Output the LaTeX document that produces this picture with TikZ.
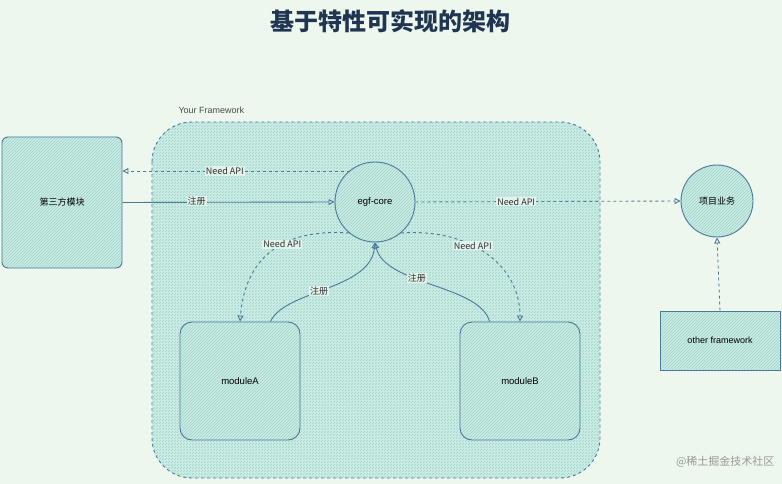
\documentclass[tikz,border=0pt]{standalone}
\usepackage{fontspec}
\setmainfont{Liberation Sans}
\newfontfamily\cjk{Noto Sans CJK SC}
\usetikzlibrary{patterns,arrows.meta}
\definecolor{bg}{HTML}{EEF7EE}
\definecolor{ln}{HTML}{4A7A98}
\definecolor{fl}{HTML}{CDEDE6}
\definecolor{hatch}{HTML}{9AD3C9}
\definecolor{ttl}{HTML}{1F3552}
\tikzset{
  sk/.style={draw=ln,line width=0.9pt,preaction={fill=fl},pattern=north east lines,pattern color=hatch},
  lbl/.style={font=\cjk\fontsize{9}{10}\selectfont,text=black!80,fill=bg!60!fl,inner sep=1pt},
  solidar/.style={draw=ln,line width=0.9pt,-{Triangle[open,length=6pt,width=6pt]}},
  dashar/.style={draw=ln,line width=0.9pt,dashed,-{Triangle[open,length=6pt,width=6pt]}},
}
\begin{document}
\begin{tikzpicture}[x=1pt,y=-1pt]
\useasboundingbox[fill=bg] (0,0) rectangle (782,484);
\node[font=\cjk\bfseries\fontsize{24}{27}\selectfont,text=ttl] (title) at (390,21) {基于特性可实现的架构};
\node[anchor=west,font=\fontsize{9}{10}\selectfont,text=black!70] (fwl) at (175,110) {Your Framework};
\path[sk,dashed,rounded corners=40] (152,122) rectangle (600,478);
\node[sk,rounded corners=6,minimum width=120,minimum height=131,font=\cjk\fontsize{9}{10}\selectfont] (third) at (62,202.5) {第三方模块};
\node[sk,circle,minimum size=80,font=\fontsize{9.5}{11}\selectfont] (core) at (375,202) {egf-core};
\node[sk,circle,minimum size=72,font=\cjk\fontsize{9}{10}\selectfont] (biz) at (717,201) {项目业务};
\node[sk,minimum width=120,minimum height=59,font=\fontsize{9}{10}\selectfont] (other) at (720,340.5) {other framework};
\node[sk,rounded corners=12,minimum width=120,minimum height=118,font=\fontsize{9.5}{11}\selectfont] (ma) at (240,381) {moduleA};
\node[sk,rounded corners=12,minimum width=120,minimum height=118,font=\fontsize{9.5}{11}\selectfont] (mb) at (520,381) {moduleB};
\coordinate (cs) at (350,171);
\draw[solidar] (third.east) -- node[lbl,pos=0.35,above=-4pt] {注册} (core.west);
\draw[dashar] (cs) -- node[lbl,pos=0.55] {Need API} (third.east |- cs);
\draw[dashar] (core.east) -- node[lbl,pos=0.38] {Need API} (biz.west);
\draw[dashar] (other.north) -- (biz.south);
\draw[solidar] (ma.north east) ++(-30,0) coordinate (ma1) .. controls (285,290) and (370,290) .. node[lbl,pos=0.45] {注册} (core.south);
\draw[solidar] (mb.north west) ++(30,0) coordinate (mb1) .. controls (480,285) and (385,285) .. node[lbl,pos=0.6] {注册} (core.south);
\draw[dashar] (core.230) .. controls (280,228) and (245,260) .. node[lbl,pos=0.4] {Need API} (ma.north);
\draw[dashar] (core.310) .. controls (470,228) and (520,265) .. node[lbl,pos=0.4] {Need API} (mb.north);
\node[anchor=east,font=\cjk\fontsize{11}{13}\selectfont,text=black!40] (wm) at (778,462) {@稀土掘金技术社区};
\end{tikzpicture}
\end{document}
